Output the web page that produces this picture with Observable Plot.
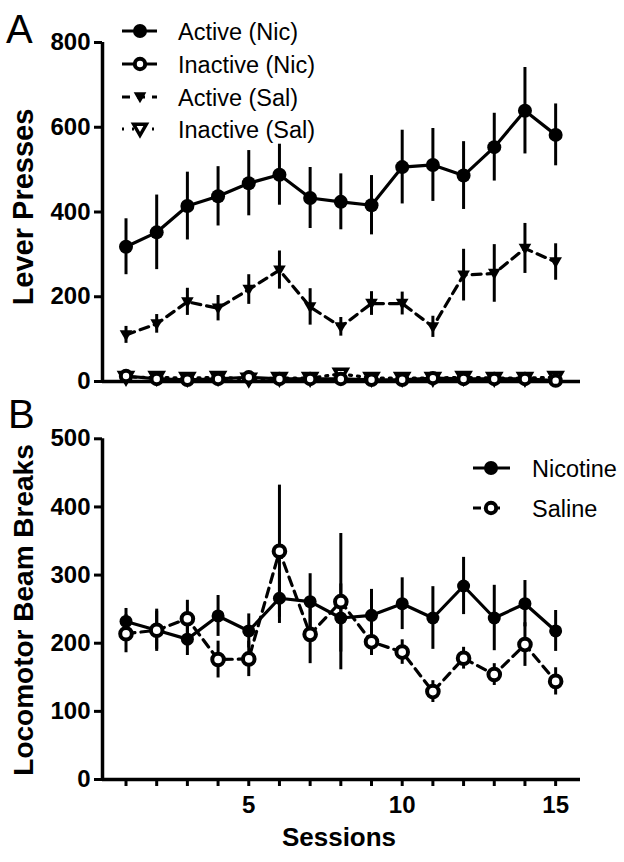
<!DOCTYPE html>
<html>
<head>
<meta charset="utf-8">
<script src="https://cdn.jsdelivr.net/npm/d3@7"></script>
<script src="https://cdn.jsdelivr.net/npm/@observablehq/plot@0.6"></script>
<style>
  html, body { margin: 0; padding: 0; background: #fff; }
  #wrap { position: relative; width: 624px; height: 862px; overflow: hidden; background: #fff; }
  #wrap > svg, #wrap > figure { position: absolute; left: 0; margin: 0; }
  g[aria-label$="-axis tick"] { stroke-width: 3px; }
  .tick line { stroke-width: 3px; }
</style>
</head>
<body>
<div id="wrap"></div>
<script>
// ---------- data ----------
const sessions = [1, 2, 3, 4, 5, 6, 7, 8, 9, 10, 11, 12, 13, 14, 15];

// Panel A: Lever presses
const activeNic     = [318, 352, 414, 437, 468, 488, 433, 424, 416, 506, 511, 486, 553, 639, 582];
const activeNicSem  = [66, 88, 80, 70, 77, 72, 72, 66, 70, 87, 86, 80, 80, 102, 73];
const inactiveNic    = [13, 6, 4, 6, 10, 6, 6, 6, 4, 4, 8, 6, 6, 6, 2];
const inactiveNicSem = [6, 3, 2, 3, 12, 3, 3, 3, 3, 3, 4, 3, 3, 3, 2];
const activeSal     = [110, 136, 188, 173, 217, 263, 176, 129, 184, 184, 129, 251, 255, 314, 282];
const activeSalSem  = [20, 22, 32, 30, 35, 45, 43, 22, 28, 27, 25, 61, 68, 59, 43];
const inactiveSal    = [10, 10, 8, 10, 6, 8, 8, 18, 8, 8, 8, 10, 8, 8, 10];
const inactiveSalSem = [14, 3, 3, 3, 18, 3, 3, 4, 3, 3, 3, 3, 3, 3, 3];

// Panel B: Locomotor beam breaks
const nicotine    = [232, 219, 206, 240, 218, 266, 261, 237, 241, 258, 237, 284, 237, 258, 218];
const nicotineSem = [19, 31, 24, 30, 25, 37, 41, 50, 38, 38, 46, 42, 48, 34, 30];
const saline      = [214, 219, 236, 176, 177, 335, 213, 261, 202, 187, 129, 178, 154, 198, 144];
const salineSem   = [28, 28, 27, 27, 26, 97, 43, 100, 20, 18, 16, 16, 16, 32, 20];

const yTicksA = [0, 200, 400, 600, 800];
const yTicksB = [0, 100, 200, 300, 400, 500];
const xLabelTicks = [5, 10, 15];
const legendA = ["Active (Nic)", "Inactive (Nic)", "Active (Sal)", "Inactive (Sal)"];
const legendB = ["Nicotine", "Saline"];

// ---------- tables ----------
const dataA = sessions.map((s, i) => ({
  session: s,
  an: activeNic[i], anS: activeNicSem[i],
  inn: inactiveNic[i], inS: inactiveNicSem[i],
  as: activeSal[i], asS: activeSalSem[i],
  is: inactiveSal[i], isS: inactiveSalSem[i]
}));
const dataB = sessions.map((s, i) => ({
  session: s,
  n: nicotine[i], nS: nicotineSem[i],
  s: saline[i], sS: salineSem[i]
}));

const xDomain = [0.234, 15.81];
const FONT = "'Liberation Sans', Arial, Helvetica, sans-serif";

// downward triangle symbol
const triDown = {
  draw(ctx, size) {
    const r = Math.sqrt(size / Math.PI);
    const w = r * 1.15;
    ctx.moveTo(-w, -r * 0.85);
    ctx.lineTo(w, -r * 0.85);
    ctx.lineTo(0, r * 1.15);
    ctx.closePath();
  }
};

function series(data, key, sem, opts) {
  return [
    Plot.ruleX(data, {x: "session", y1: d => d[key] - d[sem], y2: d => d[key] + d[sem], stroke: "black", strokeWidth: 3}),
    Plot.line(data, {x: "session", y: key, stroke: "black", strokeWidth: 3.2, strokeDasharray: opts.dash || null}),
    Plot.dot(data, {x: "session", y: key, r: opts.r, symbol: opts.symbol || "circle",
      fill: opts.fill, stroke: opts.stroke || "none", strokeWidth: opts.sw || 0})
  ];
}

const common = {
  width: 624,
  marginLeft: 102,
  marginRight: 44,
  style: {fontFamily: FONT, fontSize: "24px", fontWeight: "bold", color: "black", background: "transparent", overflow: "visible"}
};

const plotA = Plot.plot({
  ...common,
  height: 400,
  marginTop: 42,
  marginBottom: 19,
  x: {domain: xDomain, axis: null},
  y: {domain: [0, 800], ticks: yTicksA, tickSize: 8, tickPadding: 4, tickFormat: d3.format("d"), label: null},
  marks: [
    Plot.ruleY([0], {stroke: "black", strokeWidth: 3.5}),
    Plot.ruleX([xDomain[0]], {stroke: "black", strokeWidth: 3.5}),
    ...series(dataA, "as", "asS", {dash: "9,6", symbol: triDown, r: 5.5, fill: "black"}),
    ...series(dataA, "an", "anS", {r: 7, fill: "black"}),
    ...series(dataA, "is", "isS", {dash: "2,6", symbol: triDown, r: 5.5, fill: "white", stroke: "black", sw: 3.5}),
    ...series(dataA, "inn", "inS", {r: 5.2, fill: "white", stroke: "black", sw: 4})
  ]
});

const plotB = Plot.plot({
  ...common,
  height: 462,
  marginTop: 38.3,
  marginBottom: 83,
  x: {domain: xDomain, ticks: sessions, tickSize: 7, tickPadding: 9,
      tickFormat: d => xLabelTicks.includes(d) ? String(d) : "", label: null},
  y: {domain: [0, 500], ticks: yTicksB, tickSize: 8, tickPadding: 4, tickFormat: d3.format("d"), label: null},
  marks: [
    Plot.ruleY([0], {stroke: "black", strokeWidth: 3.5}),
    Plot.ruleX([xDomain[0]], {stroke: "black", strokeWidth: 3.5}),
    ...series(dataB, "n", "nS", {r: 6.5, fill: "black"}),
    ...series(dataB, "s", "sS", {dash: "9,6", r: 5.8, fill: "white", stroke: "black", sw: 4})
  ]
});

const wrap = document.getElementById("wrap");
plotA.style.top = "0px";
plotB.style.top = "400px";
wrap.appendChild(plotA);
wrap.appendChild(plotB);

// ---------- overlay: titles, panel letters, legends ----------
const ov = d3.select(wrap).append("svg")
  .attr("width", 624).attr("height", 862)
  .style("position", "absolute").style("left", "0px").style("top", "0px")
  .style("pointer-events", "none")
  .attr("font-family", FONT);

ov.append("text").attr("x", 6).attr("y", 43).attr("font-size", 40).text("A");
ov.append("text").attr("x", 8).attr("y", 428).attr("font-size", 40).text("B");

ov.append("text").attr("transform", "translate(33,207) rotate(-90)")
  .attr("text-anchor", "middle").attr("font-size", 29).attr("font-weight", "bold").text("Lever Presses");
ov.append("text").attr("transform", "translate(33,610) rotate(-90)")
  .attr("text-anchor", "middle").attr("font-size", 28).attr("font-weight", "bold").text("Locomotor Beam Breaks");
ov.append("text").attr("x", 339).attr("y", 846)
  .attr("text-anchor", "middle").attr("font-size", 26).attr("font-weight", "bold").text("Sessions");

function sym(g, kind, cx, cy) {
  if (kind === "fc") g.append("circle").attr("cx", cx).attr("cy", cy).attr("r", 7).attr("fill", "black");
  if (kind === "oc") g.append("circle").attr("cx", cx).attr("cy", cy).attr("r", 5.2).attr("fill", "white").attr("stroke", "black").attr("stroke-width", 4);
  const path = d3.path(); triDown.draw(path, Math.PI * 5.5 * 5.5);
  if (kind === "ft") g.append("path").attr("d", path.toString()).attr("transform", `translate(${cx},${cy})`).attr("fill", "black");
  if (kind === "ot") g.append("path").attr("d", path.toString()).attr("transform", `translate(${cx},${cy})`).attr("fill", "white").attr("stroke", "black").attr("stroke-width", 3.5);
}

const legA = [
  {label: legendA[0], dash: null, kind: "fc"},
  {label: legendA[1], dash: null, kind: "oc"},
  {label: legendA[2], dash: "8,7", kind: "ft"},
  {label: legendA[3], dash: "2,8", kind: "ot"}
];
const rowsA = [31, 64, 97, 129];
legA.forEach((d, i) => {
  const g = ov.append("g");
  const cy = rowsA[i];
  g.append("line").attr("x1", 122).attr("x2", 157).attr("y1", cy).attr("y2", cy)
    .attr("stroke", "black").attr("stroke-width", 3.2).attr("stroke-dasharray", d.dash);
  sym(g, d.kind, 140, cy);
  g.append("text").attr("x", 178).attr("y", cy + 8.5).attr("font-size", 23.5).text(d.label);
});

const legB = [
  {label: legendB[0], dash: null, kind: "fc"},
  {label: legendB[1], dash: "8,11", kind: "oc"}
];
const rowsB = [468, 508];
legB.forEach((d, i) => {
  const g = ov.append("g");
  const cy = rowsB[i];
  g.append("line").attr("x1", 473).attr("x2", 510).attr("y1", cy).attr("y2", cy)
    .attr("stroke", "black").attr("stroke-width", 3.2).attr("stroke-dasharray", d.dash);
  sym(g, d.kind, 491, cy);
  g.append("text").attr("x", 532).attr("y", cy + 8.5).attr("font-size", 23.5).text(d.label);
});
</script>
</body>
</html>
